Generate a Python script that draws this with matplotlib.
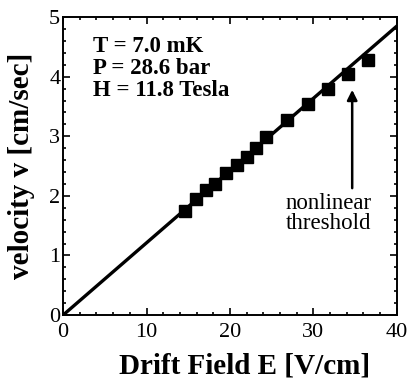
#%%
# velocity vs drift field
import numpy as np
import matplotlib.pyplot as plt
from matplotlib.ticker import MultipleLocator

#%%
# data points
field = [14.6, 15.9, 17.1, 18.2, 19.5, 20.8, 22.0, 23.1, 24.3, 26.8, 29.4, 31.8, 34.2, 36.6]
velocity = [1.75, 1.95, 2.10, 2.20, 2.38, 2.52, 2.65, 2.80, 2.99, 3.28, 3.55, 3.79, 4.05, 4.28]
fit_x = [0, 40]
fit_y = [0, 4.85]

#%%
plt.rcParams['font.family'] = ['Liberation Serif', 'DejaVu Serif']

fig = plt.figure(figsize=(4.07, 3.81), dpi=100)
ax = fig.add_axes([0.155, 0.173, 0.82, 0.782])

ax.plot(fit_x, fit_y, color='black', lw=2.4, zorder=2)
ax.plot(field, velocity, 's', color='black', ms=8.5, zorder=3)

ax.set_xlim(0, 40)
ax.set_ylim(0, 5)
ax.xaxis.set_major_locator(MultipleLocator(10))
ax.xaxis.set_minor_locator(MultipleLocator(2))
ax.yaxis.set_major_locator(MultipleLocator(1))
ax.yaxis.set_minor_locator(MultipleLocator(0.2))
ax.tick_params(which='both', direction='in', top=True, right=True, labelsize=16, width=1.2)
ax.tick_params(which='major', length=5)
ax.tick_params(which='minor', length=2.5)
ax.tick_params(axis='x', which='major', pad=6)
ax.tick_params(axis='y', which='major', pad=2)
for s in ax.spines.values():
    s.set_linewidth(1.4)

ax.set_xlabel('Drift Field E [V/cm]', fontsize=21, fontweight='bold', labelpad=7, x=0.545)
ax.set_ylabel('velocity v [cm/sec]', fontsize=21, fontweight='bold', labelpad=10)

ax.text(3.6, 4.69, 'T = 7.0 mK\nP = 28.6 bar\nH = 11.8 Tesla', fontsize=16.5,
        fontweight='bold', va='top', ha='left', linespacing=1.08)

ax.annotate('', xy=(34.65, 3.78), xytext=(34.65, 2.13),
            arrowprops=dict(arrowstyle='-|>', color='black', lw=1.8, mutation_scale=15,
                            shrinkA=0, shrinkB=0))
ax.text(31.8, 2.05, 'nonlinear\nthreshold', fontsize=16.5, ha='center', va='top', linespacing=0.95)

fig.savefig('out.png', dpi=100)
